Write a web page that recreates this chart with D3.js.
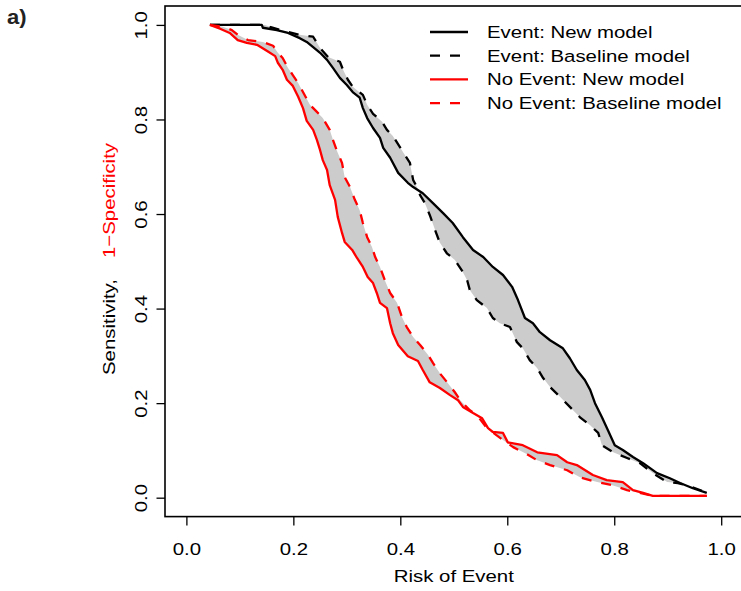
<!DOCTYPE html>
<html>
<head>
<meta charset="utf-8">
<script src="https://cdn.jsdelivr.net/npm/d3@7"></script>
<style>
  body { margin: 0; background: #fff; }
  text { font-family: "Liberation Sans", Arial, sans-serif; }
</style>
</head>
<body>
<div id="chart"></div>
<script>
// data: risk threshold vs proportion above it
const eventNewRisk = [0.044,0.141,0.143,0.169,0.190,0.212,0.225,0.237,0.250,0.263,
  0.274,0.287,0.300,0.311,0.324,0.330,0.338,0.349,0.362,0.368,
  0.381,0.396,0.414,0.424,0.442,0.461,0.480,0.498,0.517,0.536,
  0.555,0.573,0.592,0.609,0.620,0.633,0.648,0.661,0.680,0.704,
  0.717,0.730,0.745,0.755,0.764,0.777,0.788,0.801,0.816,0.835,
  0.854,0.880,0.904,0.923,0.947,0.973];
const eventNewSens = [1.000,1.000,0.994,0.989,0.983,0.972,0.964,0.953,0.941,0.926,
  0.909,0.888,0.873,0.858,0.846,0.824,0.803,0.782,0.761,0.740,
  0.719,0.687,0.666,0.657,0.644,0.623,0.602,0.581,0.551,0.524,
  0.509,0.488,0.471,0.446,0.418,0.380,0.369,0.350,0.333,0.316,
  0.295,0.270,0.249,0.228,0.200,0.170,0.143,0.111,0.101,0.086,
  0.073,0.052,0.041,0.031,0.020,0.010];

const eventBaseRisk = [0.044,0.147,0.156,0.190,0.212,0.237,0.250,0.265,0.287,0.293,
  0.302,0.311,0.330,0.338,0.349,0.366,0.375,0.386,0.399,0.418,
  0.424,0.431,0.437,0.446,0.455,0.465,0.474,0.487,0.502,0.515,
  0.525,0.530,0.543,0.562,0.573,0.586,0.605,0.618,0.629,0.642,
  0.656,0.667,0.680,0.699,0.717,0.736,0.755,0.770,0.777,0.798,
  0.824,0.848,0.872,0.899,0.919,0.942,0.970];
const eventBaseSens = [1.000,1.000,0.996,0.985,0.979,0.975,0.951,0.932,0.922,0.905,
  0.884,0.869,0.852,0.831,0.812,0.795,0.778,0.765,0.742,0.708,
  0.672,0.657,0.640,0.623,0.598,0.566,0.539,0.517,0.503,0.481,
  0.460,0.439,0.418,0.401,0.380,0.369,0.361,0.329,0.316,0.291,
  0.274,0.253,0.234,0.213,0.192,0.170,0.153,0.137,0.111,0.096,
  0.084,0.073,0.052,0.033,0.031,0.024,0.012];

const noEventNewRisk = [0.044,0.063,0.081,0.096,0.113,0.132,0.151,0.166,0.171,0.180,
  0.188,0.199,0.209,0.218,0.225,0.237,0.244,0.250,0.255,0.263,
  0.268,0.278,0.283,0.291,0.296,0.310,0.319,0.330,0.339,0.349,
  0.356,0.362,0.375,0.381,0.386,0.396,0.414,0.433,0.442,0.455,
  0.474,0.493,0.508,0.517,0.536,0.553,0.564,0.573,0.592,0.601,
  0.629,0.656,0.693,0.712,0.730,0.760,0.786,0.816,0.835,0.854,
  0.872,0.973];
const noEventNewFpr = [1.000,0.992,0.983,0.968,0.962,0.958,0.945,0.934,0.920,0.905,
  0.884,0.871,0.848,0.824,0.797,0.778,0.757,0.735,0.714,0.693,
  0.661,0.630,0.594,0.560,0.541,0.524,0.507,0.488,0.467,0.454,
  0.433,0.412,0.401,0.369,0.348,0.323,0.299,0.289,0.270,0.244,
  0.232,0.217,0.206,0.192,0.179,0.168,0.147,0.139,0.137,0.117,
  0.111,0.096,0.090,0.075,0.069,0.048,0.037,0.033,0.016,0.010,
  0.004,0.004];

const noEventBaseRisk = [0.044,0.068,0.085,0.096,0.115,0.143,0.162,0.171,0.180,0.190,
  0.199,0.209,0.218,0.231,0.244,0.255,0.268,0.274,0.281,0.291,
  0.296,0.306,0.315,0.324,0.330,0.338,0.347,0.353,0.362,0.371,
  0.381,0.394,0.403,0.412,0.424,0.437,0.452,0.461,0.474,0.489,
  0.502,0.512,0.530,0.543,0.562,0.592,0.611,0.637,0.656,0.680,
  0.712,0.736,0.768,0.798,0.824,0.848,0.872,0.973];
const noEventBaseFpr = [1.000,0.996,0.989,0.979,0.968,0.964,0.956,0.941,0.930,0.909,
  0.894,0.877,0.858,0.831,0.816,0.803,0.778,0.757,0.735,0.708,
  0.678,0.657,0.630,0.608,0.581,0.551,0.530,0.509,0.488,0.460,
  0.433,0.412,0.382,0.361,0.340,0.323,0.302,0.285,0.263,0.242,
  0.223,0.206,0.185,0.175,0.147,0.122,0.107,0.092,0.079,0.069,
  0.058,0.043,0.033,0.026,0.016,0.010,0.004,0.004];

const xTicks = [0, 0.2, 0.4, 0.6, 0.8, 1.0];
const yTicks = [0, 0.2, 0.4, 0.6, 0.8, 1.0];
const legendLabels = ["Event: New model", "Event: Baseline model", "No Event: New model", "No Event: Baseline model"];

// layout
const W = 741, H = 591;
const box = { left: 165, right: 742.6, top: 6, bottom: 516.6 };
const fontSize = 17, stretch = 1.2;   // the source font is wider than Arial

const svg = d3.select("#chart")
  .append("svg")
  .attr("width", W)
  .attr("height", H);

// R style: data range 0..1 padded by 4%
const x = d3.scaleLinear().domain([-0.04, 1.04]).range([box.left, box.right]);
const y = d3.scaleLinear().domain([-0.04, 1.04]).range([box.bottom, box.top]);

const zip = (xs, ys) => xs.map((v, i) => [v, ys[i]]);
const series = [
  { name: legendLabels[0], pts: zip(eventNewRisk, eventNewSens), color: "#000", dash: null },
  { name: legendLabels[1], pts: zip(eventBaseRisk, eventBaseSens), color: "#000", dash: "10,10" },
  { name: legendLabels[2], pts: zip(noEventNewRisk, noEventNewFpr), color: "#ff0000", dash: null },
  { name: legendLabels[3], pts: zip(noEventBaseRisk, noEventBaseFpr), color: "#ff0000", dash: "10,10" }
];

const line = d3.line()
  .x(d => x(d[0]))
  .y(d => y(d[1]));

// grey bands between new and baseline curves
const bands = [
  series[0].pts.concat(series[1].pts.slice().reverse()),
  series[2].pts.concat(series[3].pts.slice().reverse())
];
svg.selectAll(".band")
  .data(bands)
  .join("path")
  .attr("class", "band")
  .attr("d", d => line(d) + "Z")
  .attr("fill", "#cccccc")
  .attr("stroke", "none");

svg.selectAll(".curve")
  .data(series)
  .join("path")
  .attr("class", "curve")
  .attr("d", d => line(d.pts))
  .attr("fill", "none")
  .attr("stroke", d => d.color)
  .attr("stroke-width", 2.3)
  .attr("stroke-dasharray", d => d.dash)
  .attr("stroke-linejoin", "round");

// frame
svg.append("rect")
  .attr("x", box.left)
  .attr("y", box.top)
  .attr("width", box.right - box.left)
  .attr("height", box.bottom - box.top)
  .attr("fill", "none")
  .attr("stroke", "#000")
  .attr("stroke-width", 1.6);

// x axis
const xAxis = svg.append("g")
  .attr("transform", `translate(0,${box.bottom})`)
  .call(d3.axisBottom(x).tickValues(xTicks).tickFormat(d3.format(".1f")).tickSize(9));
xAxis.select(".domain").remove();
xAxis.selectAll("line").attr("stroke", "#000").attr("stroke-width", 1.3);
xAxis.selectAll("text")
  .attr("y", 0).attr("dy", null)
  .attr("transform", `translate(0,38) scale(${stretch},1)`)
  .attr("fill", "#000")
  .style("font-size", fontSize + "px");

// y axis, labels parallel to axis
const yAxis = svg.append("g")
  .attr("transform", `translate(${box.left},0)`)
  .call(d3.axisLeft(y).tickValues(yTicks).tickFormat(d3.format(".1f")).tickSize(8.5));
yAxis.select(".domain").remove();
yAxis.selectAll("line").attr("stroke", "#000").attr("stroke-width", 1.3);
yAxis.selectAll("text")
  .attr("x", 0).attr("dy", null)
  .attr("text-anchor", "middle")
  .attr("transform", `translate(-18,0) rotate(-90) scale(${stretch},1)`)
  .attr("fill", "#000")
  .style("font-size", fontSize + "px");

// axis titles
svg.append("text")
  .attr("transform", `translate(${(box.left + box.right) / 2},582) scale(${stretch},1)`)
  .attr("text-anchor", "middle")
  .style("font-size", fontSize + "px")
  .text("Risk of Event");

svg.append("text")
  .attr("transform", `translate(115,375) rotate(-90) scale(${stretch},1)`)
  .attr("text-anchor", "start")
  .attr("fill", "#000")
  .style("font-size", fontSize + "px")
  .text("Sensitivity,");

svg.append("text")
  .attr("transform", `translate(115,143) rotate(-90) scale(${stretch},1)`)
  .attr("text-anchor", "end")
  .attr("fill", "#ff0000")
  .style("font-size", fontSize + "px")
  .text("1\u2212Specificity");

// panel tag
svg.append("text")
  .attr("transform", `translate(7,24) scale(1.1,1)`)
  .style("font-size", "20px")
  .style("font-weight", "bold")
  .attr("fill", "#222")
  .text("a)");

// legend
const legend = svg.append("g").attr("transform", "translate(430,32)");
const rows = legend.selectAll("g")
  .data(series)
  .join("g")
  .attr("transform", (d, i) => `translate(0,${i * 23.7})`);
rows.append("line")
  .attr("x1", 0).attr("x2", 38)
  .attr("stroke", d => d.color)
  .attr("stroke-width", 2.3)
  .attr("stroke-dasharray", d => d.dash);
rows.append("text")
  .attr("transform", `translate(57,6) scale(${stretch},1)`)
  .style("font-size", fontSize + "px")
  .text(d => d.name);
</script>
</body>
</html>
